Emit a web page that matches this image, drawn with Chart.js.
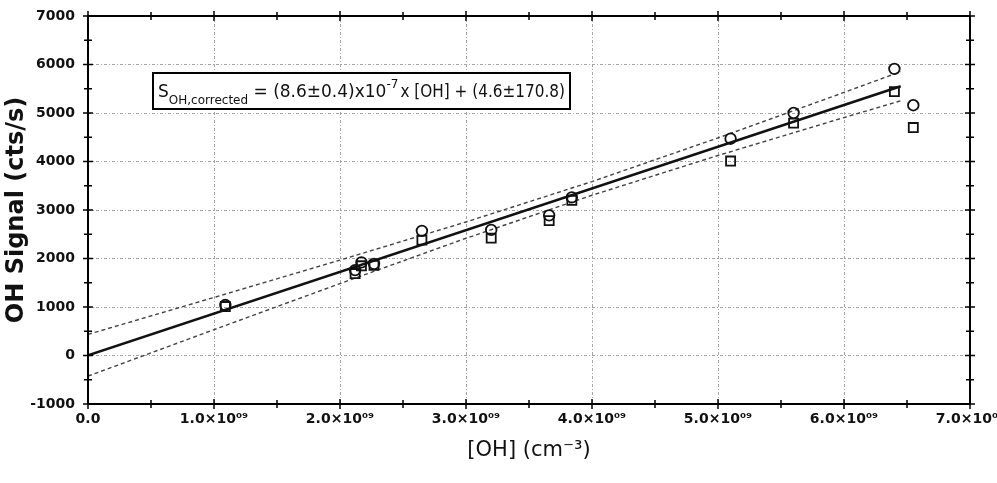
<!DOCTYPE html>
<html>
<head>
<meta charset="utf-8">
<script src="https://cdn.jsdelivr.net/npm/chart.js@4/dist/chart.umd.min.js"></script>
<style>
  html, body { margin: 0; padding: 0; background: #fff; overflow: hidden; }
  #wrap { position: relative; width: 997px; height: 483px; }
</style>
</head>
<body>
<div id="wrap"><canvas id="chart"></canvas></div>
<script>
// [OH] (cm^-3) と OH Signal (cts/s) の読み取り値
const ohConc = [1.09e9, 2.12e9, 2.17e9, 2.27e9, 2.65e9, 3.20e9, 3.66e9, 3.84e9, 5.10e9, 5.60e9, 6.40e9, 6.55e9];
const signalCircle = [1040, 1760, 1920, 1890, 2570, 2590, 2890, 3260, 4470, 5000, 5910, 5160];
const signalSquare = [1010, 1690, 1850, 1860, 2380, 2420, 2780, 3200, 4010, 4790, 5440, 4700];

// 回帰直線 (両端)
const fitX = [0, 6.45e9];
const fitY = [4.6, 5551];

// 信頼区間 (破線)
const bandX = [0, 1e9, 2e9, 3e9, 4e9, 5e9, 6e9, 6.45e9];
const bandUpper = [435, 1197, 1967, 2753, 3586, 4486, 5424, 5852];
const bandLower = [-425, 533, 1483, 2417, 3304, 4124, 4906, 5252];

const xTicks = [0, 1e9, 2e9, 3e9, 4e9, 5e9, 6e9, 7e9];
const yTicks = [-1000, 0, 1000, 2000, 3000, 4000, 5000, 6000, 7000];

const pts = (xs, ys) => xs.map((x, i) => ({ x, y: ys[i] }));

// 式の各パーツ: [テキスト, フォントサイズ, ベースラインのずれ]
const EQ_PARTS = [
  ['S', 17, 0],
  ['OH,corrected', 12, 7],
  [' = (8.6\u00b10.4)x10', 17, 0],
  ['-7', 12, -9],
  ['x [OH] + (4.6\u00b1170.8)', 17, 0],
];

// 枠線と軸をまたぐ目盛り、式の枠
const framePlugin = {
  id: 'frame',
  afterDatasetsDraw(chart) {
    const { ctx, chartArea: a, scales } = chart;
    const sx = scales.x, sy = scales.y;
    ctx.save();
    ctx.strokeStyle = '#000';
    ctx.lineWidth = 1.5;
    ctx.beginPath();
    for (let i = 0; i < xTicks.length * 2 - 1; i++) {
      const v = xTicks[0] + i * (xTicks[1] - xTicks[0]) / 2;
      const px = sx.getPixelForValue(v);
      const len = i % 2 === 0 ? 5 : 4;
      ctx.moveTo(px, a.bottom - len); ctx.lineTo(px, a.bottom + len);
      ctx.moveTo(px, a.top - len); ctx.lineTo(px, a.top + len);
    }
    for (let i = 0; i < yTicks.length * 2 - 1; i++) {
      const v = yTicks[0] + i * (yTicks[1] - yTicks[0]) / 2;
      const py = sy.getPixelForValue(v);
      const len = i % 2 === 0 ? 5 : 4;
      ctx.moveTo(a.left - len, py); ctx.lineTo(a.left + len, py);
      ctx.moveTo(a.right - len, py); ctx.lineTo(a.right + len, py);
    }
    ctx.stroke();
    ctx.lineWidth = 2;
    ctx.strokeRect(a.left, a.top, a.right - a.left, a.bottom - a.top);

    // 式のボックス
    ctx.fillStyle = '#fff';
    ctx.fillRect(153, 73, 417, 36);
    ctx.strokeRect(153, 73, 417, 36);
    ctx.fillStyle = '#111';
    ctx.textBaseline = 'alphabetic';
    ctx.textAlign = 'left';
    let cx = 158;
    EQ_PARTS.forEach(([txt, size, dy], i) => {
      ctx.font = `${size}px "DejaVu Sans", sans-serif`;
      let w = ctx.measureText(txt).width;
      if (i === EQ_PARTS.length - 1) {
        const maxW = 565 - cx;
        ctx.fillText(txt, cx, 97 + dy, maxW);
        w = Math.min(w, maxW);
      } else {
        ctx.fillText(txt, cx, 97 + dy);
      }
      cx += w + (i === 3 ? 2 : 0);
    });
    ctx.restore();
  },
};

const gridCommon = {
  color: (c) => (c.index === 0 || c.index === c.scale.ticks.length - 1) ? 'rgba(0,0,0,0)' : '#a5a5a5',
  lineWidth: 1,
  drawTicks: false,
};

new Chart(document.getElementById('chart').getContext('2d'), {
  type: 'scatter',
  data: {
    datasets: [
      {
        label: 'circle',
        data: pts(ohConc, signalCircle),
        pointStyle: 'circle',
        pointRadius: 5.3,
        borderColor: '#111',
        backgroundColor: 'rgba(0,0,0,0)',
        borderWidth: 1.8,
      },
      {
        label: 'square',
        data: pts(ohConc, signalSquare),
        pointStyle: 'rect',
        pointRadius: 6.4,
        borderColor: '#111',
        backgroundColor: 'rgba(0,0,0,0)',
        borderWidth: 1.8,
      },
      {
        label: 'fit',
        data: pts(fitX, fitY),
        showLine: true,
        pointRadius: 0,
        borderColor: '#111',
        borderWidth: 2.5,
      },
      {
        label: 'upper',
        data: pts(bandX, bandUpper),
        showLine: true,
        pointRadius: 0,
        borderColor: '#444',
        borderWidth: 1.4,
        borderDash: [4, 3],
      },
      {
        label: 'lower',
        data: pts(bandX, bandLower),
        showLine: true,
        pointRadius: 0,
        borderColor: '#444',
        borderWidth: 1.4,
        borderDash: [4, 3],
      },
    ],
  },
  options: {
    responsive: true,
    maintainAspectRatio: false,
    animation: false,
    events: [],
    layout: { padding: { top: 16, right: 27, left: 0, bottom: 0 } },
    plugins: { legend: { display: false }, tooltip: { enabled: false } },
    scales: {
      x: {
        type: 'linear',
        min: 0,
        max: 7e9,
        afterBuildTicks: (s) => { s.ticks = xTicks.map((v) => ({ value: v })); },
        afterFit: (s) => { s.height = 79; s.paddingLeft = 0; s.paddingRight = 0; },
        grid: gridCommon,
        border: { display: false, dash: [3, 2, 1, 2] },
        ticks: {
          color: '#111',
          padding: 7,
          maxRotation: 0,
          autoSkip: false,
          font: { family: '"DejaVu Sans", sans-serif', size: 14, weight: 'bold' },
          callback: (v) => v === 0 ? '0.0' : (v / 1e9).toFixed(1) + '\u00d710\u2070\u2079',
        },
        title: {
          display: true,
          text: '[OH] (cm\u207b\u00b3)',
          color: '#111',
          padding: { top: 20, bottom: 20 },
          font: { family: '"DejaVu Sans", sans-serif', size: 21 },
        },
      },
      y: {
        type: 'linear',
        min: -1000,
        max: 7000,
        afterBuildTicks: (s) => { s.ticks = yTicks.map((v) => ({ value: v })); },
        afterFit: (s) => { s.width = 88; s.paddingTop = 0; s.paddingBottom = 0; },
        grid: gridCommon,
        border: { display: false, dash: [3, 2, 1, 2] },
        ticks: {
          color: '#111',
          padding: 13,
          autoSkip: false,
          font: { family: '"DejaVu Sans", sans-serif', size: 14, weight: 'bold' },
          callback: (v) => String(v),
        },
        title: {
          display: true,
          text: 'OH Signal (cts/s)',
          color: '#111',
          padding: { top: 2, bottom: 2 },
          font: { family: '"DejaVu Sans", sans-serif', size: 24, weight: 'bold' },
        },
      },
    },
  },
  plugins: [framePlugin],
});
</script>
</body>
</html>
